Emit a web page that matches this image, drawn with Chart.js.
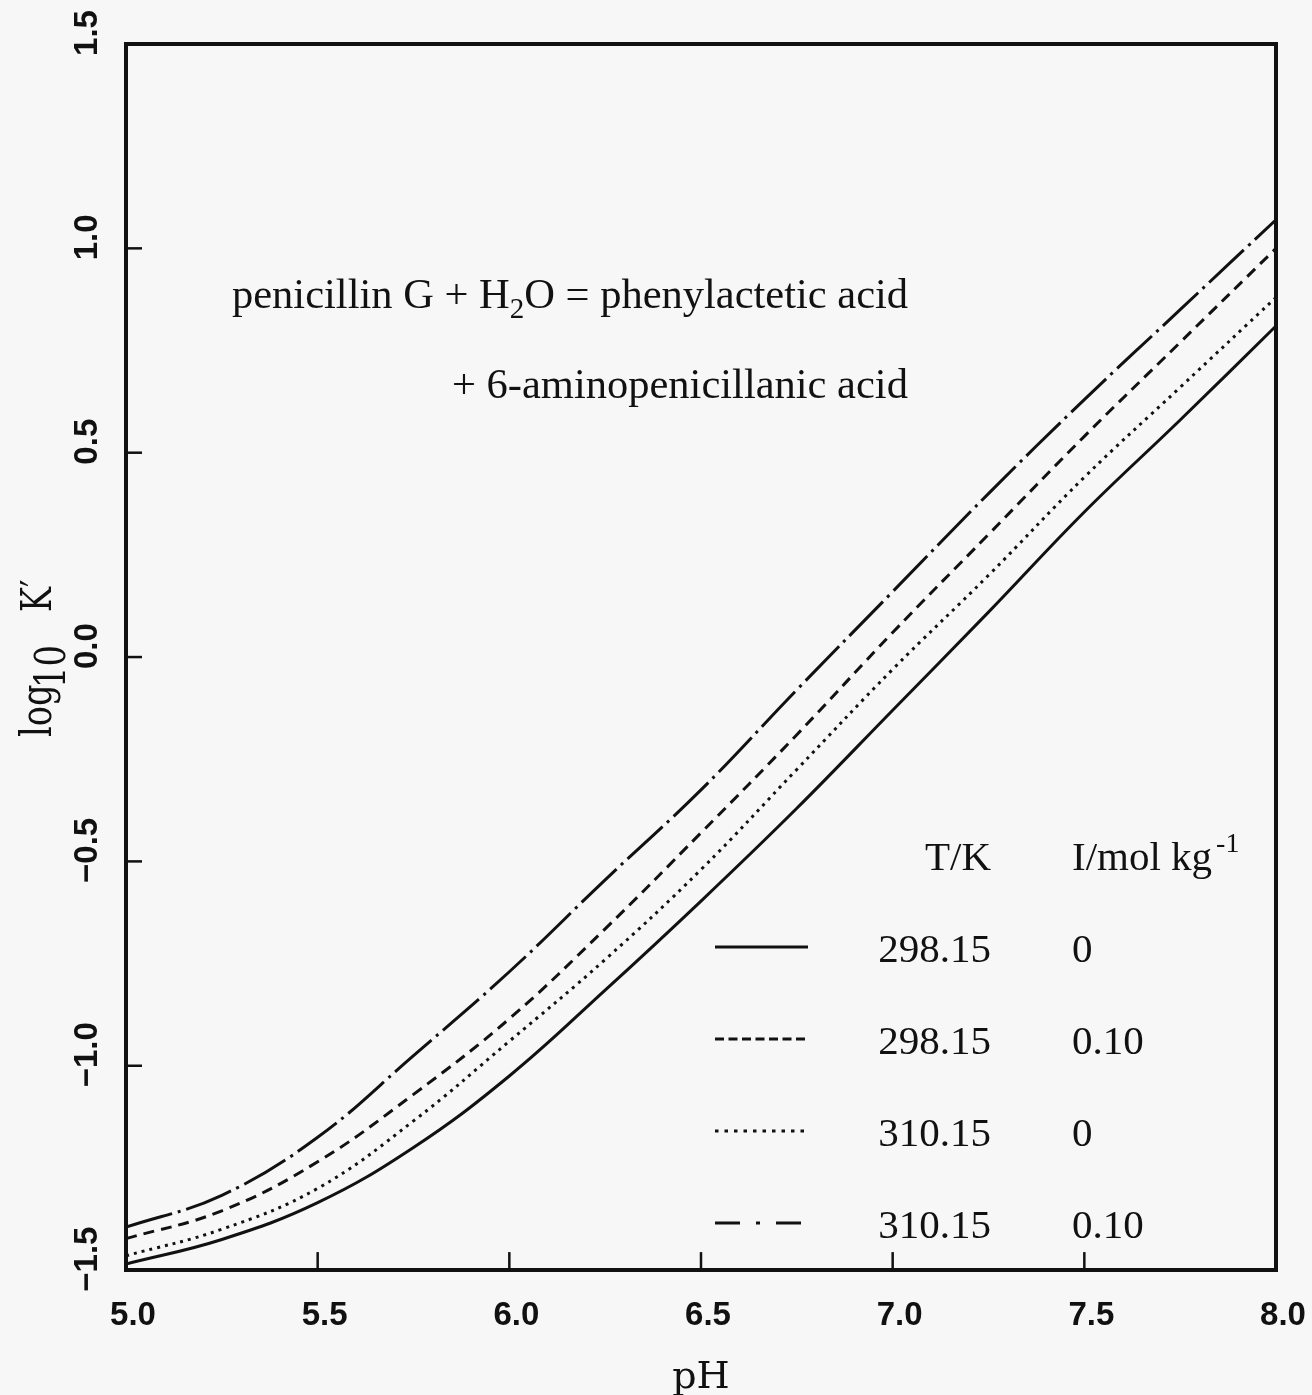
<!DOCTYPE html>
<html>
<head>
<meta charset="utf-8">
<script src="https://cdn.jsdelivr.net/npm/chart.js@4"></script>
<style>
  html, body { margin: 0; padding: 0; background: #f7f7f7; }
</style>
</head>
<body>
<canvas id="penicillinChart" width="1312" height="1395"></canvas>
<script>
// pH grid and log10 K' readings for each curve
const phValues = [5.0, 5.25, 5.5, 5.75, 6.0, 6.25, 6.5, 6.75, 7.0, 7.25, 7.5, 7.75, 8.0];
const logK_298_0 = [-1.485, -1.425, -1.335, -1.20, -1.025, -0.815, -0.597, -0.37, -0.13, 0.11, 0.355, 0.58, 0.81];
const logK_298_010 = [-1.423, -1.355, -1.235, -1.07, -0.885, -0.665, -0.43, -0.19, 0.06, 0.30, 0.54, 0.77, 1.0];
const logK_310_0 = [-1.465, -1.40, -1.30, -1.135, -0.94, -0.74, -0.52, -0.275, -0.03, 0.20, 0.44, 0.66, 0.88];
const logK_310_010 = [-1.395, -1.317, -1.175, -0.975, -0.77, -0.545, -0.325, -0.08, 0.16, 0.40, 0.63, 0.85, 1.07];

const temps = ['298.15', '298.15', '310.15', '310.15'];
const ionicStrengths = ['0', '0.10', '0', '0.10'];

const xTicks = [5.0, 5.5, 6.0, 6.5, 7.0, 7.5, 8.0];
const xTickLabels = ['5.0', '5.5', '6.0', '6.5', '7.0', '7.5', '8.0'];
const yTicks = [-1.5, -1.0, -0.5, 0.0, 0.5, 1.0, 1.5];
const yTickLabels = ['\u22121.5', '\u22121.0', '\u22120.5', '0.0', '0.5', '1.0', '1.5'];

const ink = '#111';
const curveDash = [[], [11, 7], [3, 5], [48, 6, 3, 6]];
const legendDash = [[], [9, 4.5], [3.5, 6], [25, 16, 4, 16]];
const series = [logK_298_0, logK_298_010, logK_310_0, logK_310_010];

function toPoints(ys) {
  return phValues.map((x, i) => ({ x: x, y: ys[i] }));
}

const framePlugin = {
  id: 'frame',
  afterDraw(chart) {
    const ctx = chart.ctx;
    const a = chart.chartArea;
    const xs = chart.scales.x;
    const ys = chart.scales.y;
    ctx.save();
    ctx.strokeStyle = ink;
    ctx.fillStyle = ink;

    // top and right edges of the box
    ctx.lineWidth = 4;
    ctx.beginPath();
    ctx.moveTo(a.left - 2, a.top);
    ctx.lineTo(a.right, a.top);
    ctx.lineTo(a.right, a.bottom + 2);
    ctx.stroke();

    // inward tick marks
    ctx.lineWidth = 2.5;
    xTicks.slice(1, -1).forEach(v => {
      const px = xs.getPixelForValue(v);
      ctx.beginPath();
      ctx.moveTo(px, a.bottom);
      ctx.lineTo(px, a.bottom - 18);
      ctx.stroke();
    });
    yTicks.slice(1, -1).forEach(v => {
      const py = ys.getPixelForValue(v);
      ctx.beginPath();
      ctx.moveTo(a.left, py);
      ctx.lineTo(a.left + 16, py);
      ctx.stroke();
    });

    // rotated y tick labels
    ctx.font = 'bold 33px "Liberation Sans"';
    ctx.textAlign = 'center';
    ctx.textBaseline = 'alphabetic';
    yTicks.forEach((v, i) => {
      const py = ys.getPixelForValue(v) - 11;
      ctx.save();
      ctx.translate(97, py);
      ctx.rotate(-Math.PI / 2);
      ctx.fillText(yTickLabels[i], 0, 0);
      ctx.restore();
    });

    // y axis title: log10 K' (narrow serif, rotated)
    ctx.textAlign = 'left';
    const titleParts = [['log', 737, 0], ['10', 688, 14], ['K\u2032', 612, 0]];
    titleParts.forEach(p => {
      ctx.save();
      ctx.translate(51 + p[2], p[1]);
      ctx.rotate(-Math.PI / 2);
      ctx.scale(0.8, 1);
      ctx.font = '42px "DejaVu Serif"';
      ctx.fillText(p[0], 0, 0);
      ctx.restore();
    });

    // reaction annotation
    ctx.font = '42.5px "Liberation Serif"';
    let x = 232;
    ctx.fillText('penicillin G + H', x, 308);
    x += ctx.measureText('penicillin G + H').width;
    ctx.font = '29px "Liberation Serif"';
    ctx.fillText('2', x, 318);
    x += ctx.measureText('2').width;
    ctx.font = '42.5px "Liberation Serif"';
    ctx.fillText('O = phenylactetic acid', x, 308);
    ctx.fillText('+ 6-aminopenicillanic acid', 452, 398);

    // legend table
    ctx.font = '41px "Liberation Serif"';
    ctx.textAlign = 'right';
    ctx.fillText('T/K', 991, 870);
    ctx.textAlign = 'left';
    ctx.fillText('I/mol kg', 1072, 870);
    const kw = ctx.measureText('I/mol kg').width;
    ctx.font = '28px "Liberation Serif"';
    ctx.fillText('-1', 1072 + kw + 4, 852);

    ctx.lineWidth = 3;
    series.forEach((s, i) => {
      const ly = 947 + i * 92;
      ctx.setLineDash(legendDash[i]);
      ctx.beginPath();
      ctx.moveTo(715, ly);
      ctx.lineTo(808, ly);
      ctx.stroke();
      ctx.setLineDash([]);
      ctx.font = '41px "Liberation Serif"';
      ctx.textAlign = 'right';
      ctx.fillText(temps[i], 991, ly + 15);
      ctx.textAlign = 'left';
      ctx.fillText(ionicStrengths[i], 1072, ly + 15);
    });
    ctx.restore();
  }
};

const ctx = document.getElementById('penicillinChart').getContext('2d');

new Chart(ctx, {
  type: 'line',
  data: {
    datasets: series.map((s, i) => ({
      label: temps[i] + ' K, I = ' + ionicStrengths[i],
      data: toPoints(s),
      borderColor: ink,
      borderWidth: 3,
      borderDash: curveDash[i],
      pointRadius: 0,
      fill: false,
      tension: 0.4
    }))
  },
  options: {
    responsive: false,
    animation: false,
    layout: {
      padding: { left: 126, top: 44, right: 36, bottom: 1 }
    },
    plugins: {
      legend: { display: false },
      tooltip: { enabled: false }
    },
    scales: {
      x: {
        type: 'linear',
        min: 5,
        max: 8,
        afterBuildTicks: s => { s.ticks = xTicks.map(v => ({ value: v })); },
        afterFit: s => { s.paddingLeft = 0; s.paddingRight = 0; },
        ticks: {
          color: ink,
          padding: 26,
          labelOffset: 7,
          maxRotation: 0,
          font: { family: 'Liberation Sans', size: 33, weight: 'bold' },
          callback: v => xTickLabels[xTicks.indexOf(v)]
        },
        grid: { display: false, drawTicks: false },
        border: { display: true, color: ink, width: 4 },
        title: {
          display: true,
          text: 'pH',
          color: ink,
          font: { family: 'DejaVu Serif', size: 38, lineHeight: 0.85 },
          padding: { top: 0, bottom: 0 }
        }
      },
      y: {
        type: 'linear',
        min: -1.5,
        max: 1.5,
        ticks: { display: false },
        grid: { display: false, drawTicks: false },
        border: { display: true, color: ink, width: 4 }
      }
    }
  },
  plugins: [framePlugin]
});
</script>
</body>
</html>
